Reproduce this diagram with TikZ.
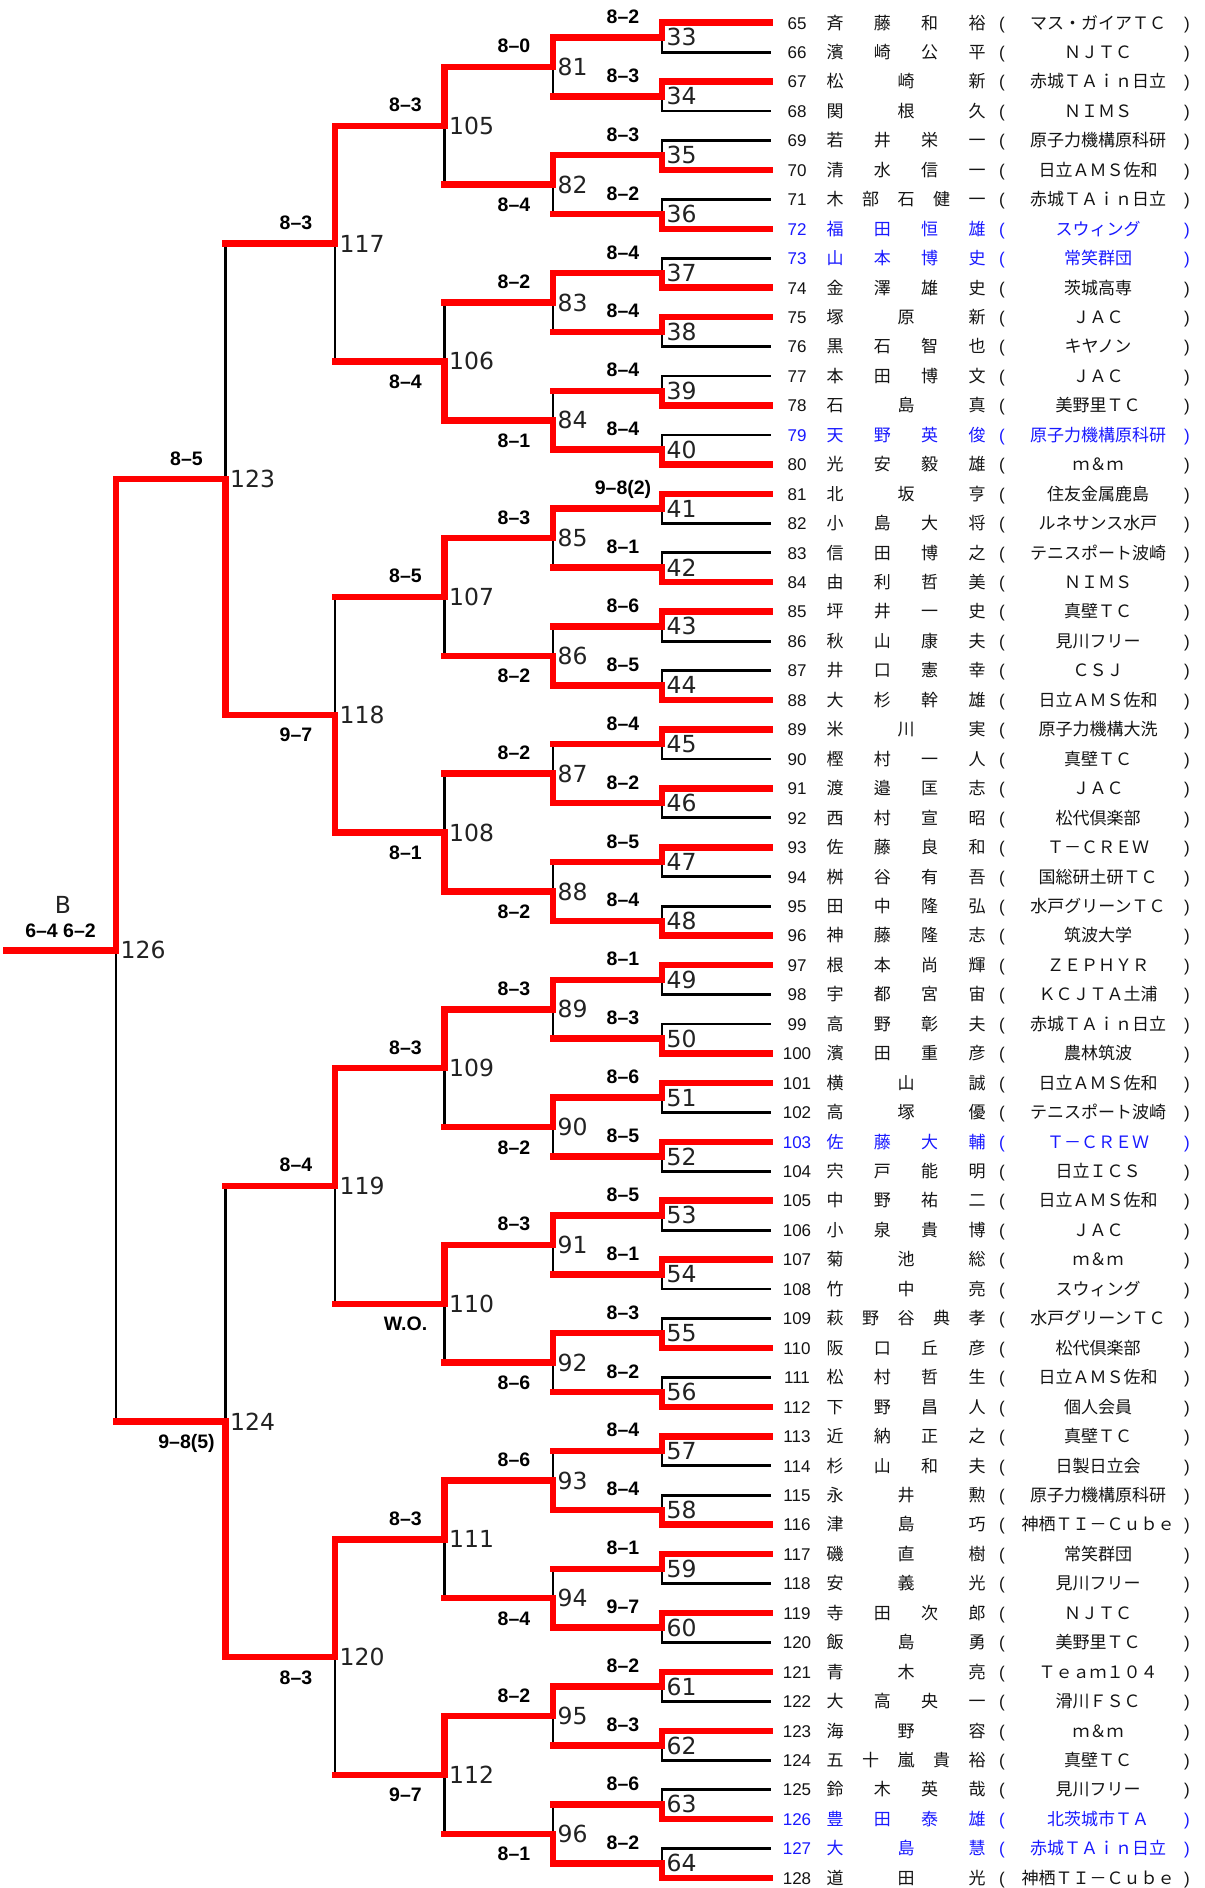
\documentclass[tikz,border=0pt]{standalone}
\usepackage{fontspec}
\setmainfont{Liberation Sans}
\newfontfamily\jpf{Noto Sans CJK JP}
\newfontfamily\numfont{DejaVu Sans}
\definecolor{rd}{RGB}{255,0,0}
\definecolor{bl}{RGB}{25,25,255}
\definecolor{tx}{RGB}{20,20,20}
\definecolor{dg}{RGB}{34,34,34}
\tikzset{
  redline/.style={draw=rd,line width=6.5pt,line cap=rect,line join=miter},
  blkline/.style={draw=black,line width=2.8pt,line cap=rect},
  score/.style={font=\fontsize{19.5}{20}\selectfont\bfseries,anchor=base,inner sep=0pt,text=black},
  brnum/.style={font=\numfont\fontsize{23.5}{24}\selectfont,anchor=west,inner sep=0pt,text=dg},
  pname/.style={font=\jpf\fontsize{17}{17}\selectfont,anchor=base,inner sep=0pt},
  pnum/.style={font=\fontsize{17}{17}\selectfont,anchor=base,inner sep=0pt},
  paren/.style={font=\fontsize{17}{17}\selectfont,anchor=base,inner sep=0pt}
}
% first round match: #1 match, #2 upper player, #3 lower player, #4 winner u/l
\newcommand\mone[4]{%
  \draw[blkline] (p#2 -| m#1) -- (p#3 -| m#1);
  \if u#4
    \draw[blkline] (p#3) -- (p#3 -| m#1);
    \draw[redline] (p#2) -- (p#2 -| m#1) -- (m#1);
  \else
    \draw[blkline] (p#2) -- (p#2 -| m#1);
    \draw[redline] (p#3) -- (p#3 -| m#1) -- (m#1);
  \fi
}
% later match: #1 match, #2 upper child, #3 lower child, #4 winner u/l
\newcommand\mtwo[4]{%
  \draw[blkline] (m#2 -| m#1) -- (m#3 -| m#1);
  \if u#4
    \draw[redline] (m#3) -- (m#3 -| m#1);
    \draw[redline] (m#2) -- (m#2 -| m#1) -- (m#1);
  \else
    \draw[redline] (m#2) -- (m#2 -| m#1);
    \draw[redline] (m#3) -- (m#3 -| m#1) -- (m#1);
  \fi
}
% player row: #1 number, #2 char count, #3 chars, #4 club, #5 colour
\newcommand\pl[5]{%
  \pgfmathsetmacro\yy{22.7+29.449*(#1-65)+6.3}
  \node[pnum,text=#5] (num#1) at (797,\yy) {#1};
  \foreach \ch [count=\k from 0] in {#3} {
    \pgfmathsetmacro\xx{835+142*\k/(#2-1)}
    \node[pname,text=#5] (c#1-\k) at (\xx,\yy) {\ch};
  }
  \node[paren,text=#5] (lp#1) at (1002,\yy) {(};
  \node[pname,text=#5] (cl#1) at (1098,\yy) {#4};
  \node[paren,text=#5] (rp#1) at (1187,\yy) {)};
}
\begin{document}
\begin{tikzpicture}[x=1pt,y=-1pt]
\fill[white] (0,0) rectangle (1205,1888);
\path[use as bounding box] (0,0) rectangle (1205,1888);
% coordinates
\foreach \i in {0,...,63} {
  \pgfmathtruncatemacro\n{65+\i}
  \coordinate (p\n) at (770,{22.7+29.449*\i});
}
\foreach \j in {0,...,31} {
  \pgfmathtruncatemacro\n{33+\j}
  \coordinate (m\n) at (662,{22.7+29.449*(2*\j+0.5)});
}
\foreach \j in {0,...,15} {
  \pgfmathtruncatemacro\n{81+\j}
  \coordinate (m\n) at (553,{22.7+29.449*(4*\j+1.5)});
}
\foreach \j in {0,...,7} {
  \pgfmathtruncatemacro\n{105+\j}
  \coordinate (m\n) at (444.5,{22.7+29.449*(8*\j+3.5)});
}
\foreach \j in {0,...,3} {
  \pgfmathtruncatemacro\n{117+\j}
  \coordinate (m\n) at (335,{22.7+29.449*(16*\j+7.5)});
}
\foreach \j in {0,1} {
  \pgfmathtruncatemacro\n{123+\j}
  \coordinate (m\n) at (225.5,{22.7+29.449*(32*\j+15.5)});
}
\coordinate (m126) at (116,{22.7+29.449*31.5});
\coordinate (fin) at (6.5,{22.7+29.449*31.5});

% round 1
\foreach \m/\w in {33/u,34/u,35/l,36/l,37/l,38/u,39/l,40/l,41/u,42/l,43/u,44/l,45/u,46/u,47/u,48/l,
  49/u,50/l,51/u,52/u,53/u,54/u,55/l,56/l,57/u,58/l,59/u,60/u,61/u,62/u,63/l,64/l} {
  \pgfmathtruncatemacro\a{65+2*(\m-33)}
  \pgfmathtruncatemacro\b{66+2*(\m-33)}
  \mone{\m}{\a}{\b}{\w}
}
% round 2
\foreach \m/\w in {81/u,82/u,83/u,84/l,85/u,86/l,87/l,88/l,89/u,90/u,91/u,92/u,93/l,94/l,95/u,96/l} {
  \pgfmathtruncatemacro\a{33+2*(\m-81)}
  \pgfmathtruncatemacro\b{34+2*(\m-81)}
  \mtwo{\m}{\a}{\b}{\w}
}
% round 3
\foreach \m/\w in {105/u,106/l,107/u,108/l,109/u,110/u,111/u,112/u} {
  \pgfmathtruncatemacro\a{81+2*(\m-105)}
  \pgfmathtruncatemacro\b{82+2*(\m-105)}
  \mtwo{\m}{\a}{\b}{\w}
}
% round 4
\foreach \m/\w in {117/u,118/l,119/u,120/u} {
  \pgfmathtruncatemacro\a{105+2*(\m-117)}
  \pgfmathtruncatemacro\b{106+2*(\m-117)}
  \mtwo{\m}{\a}{\b}{\w}
}
% round 5 and final
\mtwo{123}{117}{118}{l}
\mtwo{124}{119}{120}{l}
\mtwo{126}{123}{124}{u}
\draw[redline] (m126) -- (fin);

% bracket numbers
\foreach \n in {33,...,64} {\node[brnum] (n\n) at ([xshift=4.5pt]m\n) {\n};}
\foreach \n in {81,...,96} {\node[brnum] (n\n) at ([xshift=4.5pt]m\n) {\n};}
\foreach \n in {105,...,112} {\node[brnum] (n\n) at ([xshift=4.5pt]m\n) {\n};}
\foreach \n in {117,...,120} {\node[brnum] (n\n) at ([xshift=4.5pt]m\n) {\n};}
\foreach \n in {123,124,126} {\node[brnum] (n\n) at ([xshift=4.5pt]m\n) {\n};}

% scores
\foreach \m/\s in {33/8–2,34/8–3,35/8–3,36/8–2,37/8–4,38/8–4,39/8–4,40/8–4,41/9–8(2),42/8–1,43/8–6,44/8–5,
  45/8–4,46/8–2,47/8–5,48/8–4,49/8–1,50/8–3,51/8–6,52/8–5,53/8–5,54/8–1,55/8–3,56/8–2,57/8–4,58/8–4,
  59/8–1,60/9–7,61/8–2,62/8–3,63/8–6,64/8–2} {
  \node[score] (s\m) at ([xshift=-39pt,yshift=14pt]m\m) {\s};
}
\foreach \m/\s/\d in {81/8–0/14,82/8–4/-27,83/8–2/14,84/8–1/-27,85/8–3/14,86/8–2/-27,87/8–2/14,88/8–2/-27,
  89/8–3/14,90/8–2/-27,91/8–3/14,92/8–6/-27,93/8–6/14,94/8–4/-27,95/8–2/14,96/8–1/-27,
  105/8–3/14,106/8–4/-27,107/8–5/14,108/8–1/-27,109/8–3/14,110/W.O./-27,111/8–3/14,112/9–7/-27,
  117/8–3/14,118/9–7/-27,119/8–4/14,120/8–3/-27,123/8–5/14,124/9–8(5)/-27} {
  \node[score] (s\m) at ([xshift=-39pt,yshift=\d pt]m\m) {\s};
}
\node[font=\numfont\fontsize{23.5}{24}\selectfont,text=dg,inner sep=0pt] (blabel) at (63,905) {B};
\node[score] (sfinal) at (60.5,937.7) {6–4 6–2};

% players
\pl{65}{4}{斉,藤,和,裕}{マス・ガイアＴＣ}{tx}
\pl{66}{4}{濱,崎,公,平}{ＮＪＴＣ}{tx}
\pl{67}{3}{松,崎,新}{赤城ＴＡｉｎ日立}{tx}
\pl{68}{3}{関,根,久}{ＮＩＭＳ}{tx}
\pl{69}{4}{若,井,栄,一}{原子力機構原科研}{tx}
\pl{70}{4}{清,水,信,一}{日立ＡＭＳ佐和}{tx}
\pl{71}{5}{木,部,石,健,一}{赤城ＴＡｉｎ日立}{tx}
\pl{72}{4}{福,田,恒,雄}{スウィング}{bl}
\pl{73}{4}{山,本,博,史}{常笑群団}{bl}
\pl{74}{4}{金,澤,雄,史}{茨城高専}{tx}
\pl{75}{3}{塚,原,新}{ＪＡＣ}{tx}
\pl{76}{4}{黒,石,智,也}{キヤノン}{tx}
\pl{77}{4}{本,田,博,文}{ＪＡＣ}{tx}
\pl{78}{3}{石,島,真}{美野里ＴＣ}{tx}
\pl{79}{4}{天,野,英,俊}{原子力機構原科研}{bl}
\pl{80}{4}{光,安,毅,雄}{ｍ＆ｍ}{tx}
\pl{81}{3}{北,坂,亨}{住友金属鹿島}{tx}
\pl{82}{4}{小,島,大,将}{ルネサンス水戸}{tx}
\pl{83}{4}{信,田,博,之}{テニスポート波崎}{tx}
\pl{84}{4}{由,利,哲,美}{ＮＩＭＳ}{tx}
\pl{85}{4}{坪,井,一,史}{真壁ＴＣ}{tx}
\pl{86}{4}{秋,山,康,夫}{見川フリー}{tx}
\pl{87}{4}{井,口,憲,幸}{ＣＳＪ}{tx}
\pl{88}{4}{大,杉,幹,雄}{日立ＡＭＳ佐和}{tx}
\pl{89}{3}{米,川,実}{原子力機構大洗}{tx}
\pl{90}{4}{樫,村,一,人}{真壁ＴＣ}{tx}
\pl{91}{4}{渡,邉,匡,志}{ＪＡＣ}{tx}
\pl{92}{4}{西,村,宣,昭}{松代倶楽部}{tx}
\pl{93}{4}{佐,藤,良,和}{Ｔ－ＣＲＥＷ}{tx}
\pl{94}{4}{桝,谷,有,吾}{国総研土研ＴＣ}{tx}
\pl{95}{4}{田,中,隆,弘}{水戸グリーンＴＣ}{tx}
\pl{96}{4}{神,藤,隆,志}{筑波大学}{tx}
\pl{97}{4}{根,本,尚,輝}{ＺＥＰＨＹＲ}{tx}
\pl{98}{4}{宇,都,宮,宙}{ＫＣＪＴＡ土浦}{tx}
\pl{99}{4}{高,野,彰,夫}{赤城ＴＡｉｎ日立}{tx}
\pl{100}{4}{濱,田,重,彦}{農林筑波}{tx}
\pl{101}{3}{横,山,誠}{日立ＡＭＳ佐和}{tx}
\pl{102}{3}{高,塚,優}{テニスポート波崎}{tx}
\pl{103}{4}{佐,藤,大,輔}{Ｔ－ＣＲＥＷ}{bl}
\pl{104}{4}{宍,戸,能,明}{日立ＩＣＳ}{tx}
\pl{105}{4}{中,野,祐,二}{日立ＡＭＳ佐和}{tx}
\pl{106}{4}{小,泉,貴,博}{ＪＡＣ}{tx}
\pl{107}{3}{菊,池,総}{ｍ＆ｍ}{tx}
\pl{108}{3}{竹,中,亮}{スウィング}{tx}
\pl{109}{5}{萩,野,谷,典,孝}{水戸グリーンＴＣ}{tx}
\pl{110}{4}{阪,口,丘,彦}{松代倶楽部}{tx}
\pl{111}{4}{松,村,哲,生}{日立ＡＭＳ佐和}{tx}
\pl{112}{4}{下,野,昌,人}{個人会員}{tx}
\pl{113}{4}{近,納,正,之}{真壁ＴＣ}{tx}
\pl{114}{4}{杉,山,和,夫}{日製日立会}{tx}
\pl{115}{3}{永,井,勲}{原子力機構原科研}{tx}
\pl{116}{3}{津,島,巧}{神栖ＴＩ－Ｃｕｂｅ}{tx}
\pl{117}{3}{磯,直,樹}{常笑群団}{tx}
\pl{118}{3}{安,義,光}{見川フリー}{tx}
\pl{119}{4}{寺,田,次,郎}{ＮＪＴＣ}{tx}
\pl{120}{3}{飯,島,勇}{美野里ＴＣ}{tx}
\pl{121}{3}{青,木,亮}{Ｔｅａｍ１０４}{tx}
\pl{122}{4}{大,高,央,一}{滑川ＦＳＣ}{tx}
\pl{123}{3}{海,野,容}{ｍ＆ｍ}{tx}
\pl{124}{5}{五,十,嵐,貴,裕}{真壁ＴＣ}{tx}
\pl{125}{4}{鈴,木,英,哉}{見川フリー}{tx}
\pl{126}{4}{豊,田,泰,雄}{北茨城市ＴＡ}{bl}
\pl{127}{3}{大,島,慧}{赤城ＴＡｉｎ日立}{bl}
\pl{128}{3}{道,田,光}{神栖ＴＩ－Ｃｕｂｅ}{tx}
\end{tikzpicture}
\end{document}
